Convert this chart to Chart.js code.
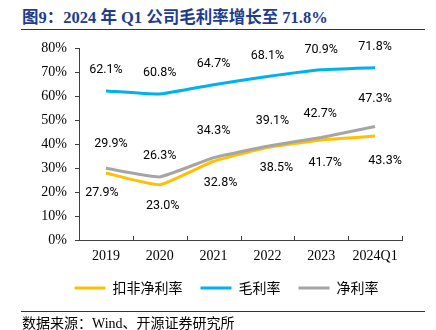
<!DOCTYPE html>
<html>
<head>
<meta charset="utf-8">
<script src="https://cdn.jsdelivr.net/npm/chart.js@4.4.1/dist/chart.umd.min.js"></script>
<style>
  html, body { margin: 0; padding: 0; background: #fff; }
  #wrap { position: relative; width: 436px; height: 330px; overflow: hidden; background: #fff; }
  #c { position: absolute; left: 0; top: 0; }
  .title { position: absolute; left: 22px; top: 8px; font: bold 16.5px "Liberation Serif", "Noto Sans CJK SC", serif; color: #1E3C8C; line-height: 20px; white-space: nowrap; }
  .rule { position: absolute; left: 21px; width: 404px; height: 1px; background: #333; }
  .src { position: absolute; left: 22px; top: 315px; font: 14px "Liberation Serif", "Noto Sans CJK SC", serif; color: #000; line-height: 18px; white-space: nowrap; }
</style>
</head>
<body>
<div id="wrap">
  <div class="title">图9：2024 年 Q1 公司毛利率增长至 71.8%</div>
  <div class="rule" style="top:29px"></div>
  <canvas id="c" width="436" height="330"></canvas>
  <div class="rule" style="top:311px"></div>
  <div class="src">数据来源：Wind、开源证券研究所</div>
</div>
<script>
const categories = ['2019', '2020', '2021', '2022', '2023', '2024Q1'];
const deductedNetMargin = [27.9, 23.0, 32.8, 38.5, 41.7, 43.3];
const grossMargin = [62.1, 60.8, 64.7, 68.1, 70.9, 71.8];
const netMargin = [29.9, 26.3, 34.3, 39.1, 42.7, 47.3];
const yTicks = [0, 10, 20, 30, 40, 50, 60, 70, 80];
const seriesNames = ['扣非净利率', '毛利率', '净利率'];

// label offsets (style only)
const labelOffsets = [
  { dx: [-4, 3, 7, 9, 4, 10], dy: [20, 21, 22, 20, 23, 25] },
  { dx: [0, 0, 0, 0, 0, 0], dy: [-21, -21, -21, -21, -20, -21] },
  { dx: [5, 0, 0, 5, -1, 0], dy: [-24, -21, -27, -25, -24, -28] }
];

const dataLabels = {
  id: 'dataLabels',
  afterDatasetsDraw(chart) {
    const ctx = chart.ctx;
    ctx.save();
    ctx.font = '12.5px Roboto, "Liberation Sans", sans-serif';
    ctx.fillStyle = '#000';
    ctx.textAlign = 'center';
    ctx.textBaseline = 'middle';
    chart.data.datasets.forEach((ds, di) => {
      const meta = chart.getDatasetMeta(di);
      meta.data.forEach((pt, i) => {
        const o = labelOffsets[di];
        ctx.fillText(ds.data[i].toFixed(1) + '%', pt.x + o.dx[i], pt.y + o.dy[i]);
      });
    });
    ctx.restore();
  }
};

const innerTicks = {
  id: 'innerTicks',
  afterDraw(chart) {
    const x = chart.scales.x;
    const ctx = chart.ctx;
    const n = categories.length;
    ctx.save();
    ctx.strokeStyle = '#404040';
    ctx.lineWidth = 1;
    ctx.beginPath();
    for (let i = 1; i <= n; i++) {
      const px = Math.round(x.left + i * (x.right - x.left) / n) + 0.5;
      ctx.moveTo(px, x.top);
      ctx.lineTo(px, x.top - 4);
    }
    ctx.stroke();
    ctx.restore();
  }
};

const legendShift = {
  id: 'legendShift',
  afterLayout(chart) {
    const lg = chart.legend;
    if (lg) { lg.left += 17; lg.right += 17; }
  }
};

new Chart(document.getElementById('c'), {
  type: 'line',
  data: {
    labels: categories,
    datasets: [
      { label: seriesNames[0], data: deductedNetMargin, borderColor: '#FFC000', backgroundColor: '#FFC000', order: 1 },
      { label: seriesNames[1], data: grossMargin, borderColor: '#00B0F0', backgroundColor: '#00B0F0', order: 2 },
      { label: seriesNames[2], data: netMargin, borderColor: '#A5A5A5', backgroundColor: '#A5A5A5', order: 0 }
    ]
  },
  options: {
    responsive: false,
    animation: false,
    devicePixelRatio: 1,
    layout: { padding: { top: 48, left: 17, right: 34, bottom: 25 } },
    elements: {
      line: { borderWidth: 3, tension: 0.12, capBezierPoints: true },
      point: { radius: 0, hoverRadius: 0 }
    },
    plugins: {
      tooltip: { enabled: false },
      legend: {
        position: 'bottom',
        labels: {
          boxWidth: 31,
          boxHeight: 3,
          padding: 18,
          color: '#000',
          font: { size: 14, family: '"Noto Sans CJK SC", sans-serif' },
          sort: (a, b) => a.datasetIndex - b.datasetIndex,
          generateLabels(chart) {
            return chart.data.datasets.map((ds, i) => ({
              text: ds.label, fillStyle: ds.borderColor, strokeStyle: ds.borderColor,
              lineWidth: 0, datasetIndex: i, hidden: false
            }));
          }
        }
      }
    },
    scales: {
      x: {
        offset: true,
        grid: { display: true, drawOnChartArea: false, drawTicks: false, offset: true },
        border: { display: true, color: '#404040', width: 1 },
        ticks: { color: '#000', padding: 8, font: { size: 14, family: '"Liberation Serif", serif' }, maxRotation: 0 },
        afterFit(s) { s.height = 23; }
      },
      y: {
        min: 0, max: 80,
        afterBuildTicks(s) { s.ticks = yTicks.map(v => ({ value: v })); },
        grid: { drawOnChartArea: false, drawTicks: true, tickLength: 4, color: '#404040' },
        border: { display: true, color: '#404040', width: 1 },
        ticks: { color: '#000', padding: 8, font: { size: 14, family: '"Liberation Serif", serif' }, callback: v => v + '%' },
        afterFit(s) { s.width = 62; }
      }
    }
  },
  plugins: [dataLabels, innerTicks, legendShift]
});
</script>
</body>
</html>
